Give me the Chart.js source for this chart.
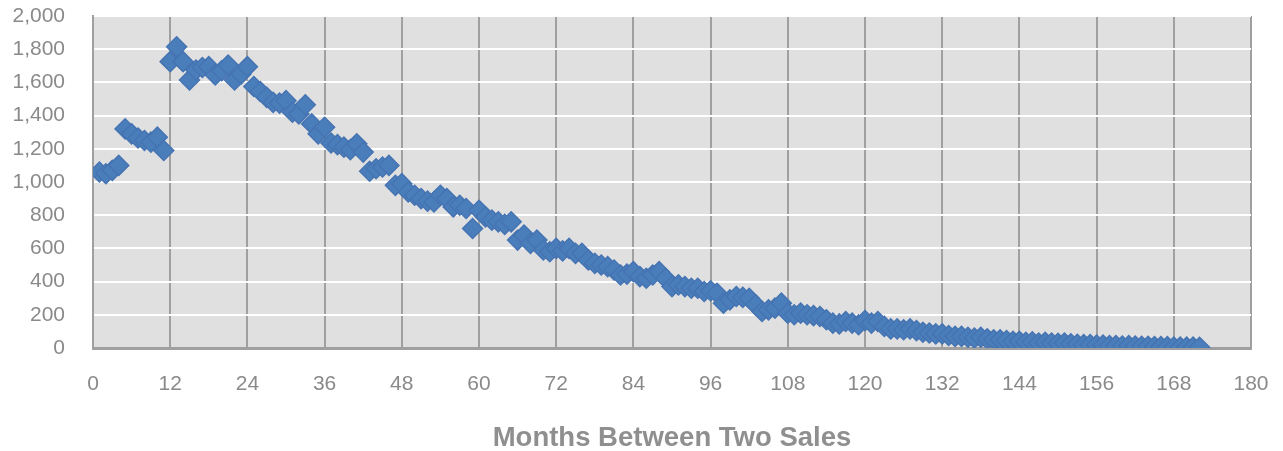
<!DOCTYPE html>
<html lang="en">
<head>
    <meta charset="UTF-8">
    <title>Months Between Two Sales</title>
    <script src="https://cdn.jsdelivr.net/npm/chart.js"></script>
    <style>
        body {
            margin: 0;
            padding: 0;
            background: #ffffff;
        }
        .wrap {
            width: 1283px;
            height: 451px;
        }
    </style>
</head>
<body>
    <div class="wrap">
        <canvas id="salesChart"></canvas>
    </div>
    <script>
        // months between two sales (1..172) and number of pairs
        const months = [];
        for (let m = 1; m <= 172; m++) months.push(m);

        const counts = [
            1060, 1050, 1070, 1100, 1320, 1290, 1265, 1250, 1240, 1270, 1190, 1725,
            1815, 1725, 1615, 1675, 1690, 1695, 1645, 1670, 1705, 1615, 1650, 1695,
            1575, 1545, 1510, 1480, 1475, 1490, 1420, 1410, 1465, 1350, 1290, 1330,
            1235, 1225, 1210, 1195, 1230, 1180, 1065, 1080, 1090, 1100, 980, 990,
            940, 920, 900, 885, 880, 920, 900, 850, 860, 840, 720, 830,
            790, 770, 760, 745, 760, 650, 680, 630, 650, 590, 580, 600,
            585, 600, 570, 570, 530, 510, 500, 490, 470, 440, 445, 460,
            430, 420, 440, 460, 420, 370, 380, 370, 360, 360, 340, 345,
            330, 270, 290, 310, 305, 300, 260, 220, 230, 240, 270, 210,
            200, 210, 200, 195, 190, 170, 150, 145, 160, 150, 140, 165,
            150, 160, 130, 115, 115, 110, 115, 105, 95, 90, 85, 85,
            75, 70, 70, 65, 60, 65, 55, 50, 50, 45, 40, 40,
            35, 38, 30, 35, 30, 28, 30, 25, 22, 20, 20, 18,
            18, 15, 15, 12, 14, 12, 10, 10, 9, 8, 8, 6,
            6, 5, 5, 4
        ];

        const xMin = 0, xMax = 180, xStep = 12;
        const yMin = 0, yMax = 2000, yStep = 200;

        const points = months.map((m, i) => ({ x: m, y: counts[i] }));

        const plotBg = {
            id: 'plotBg',
            beforeDraw(chart) {
                const { ctx, chartArea } = chart;
                ctx.save();
                ctx.fillStyle = '#e0e0e0';
                ctx.fillRect(chartArea.left, chartArea.top,
                    chartArea.right - chartArea.left, chartArea.bottom - chartArea.top);
                ctx.restore();
            }
        };

        const tickFont = { family: "'Liberation Sans', Arial, sans-serif", size: 21 };
        const tickColor = '#8a8a8a';

        new Chart(document.getElementById('salesChart'), {
            type: 'scatter',
            data: {
                datasets: [{
                    data: points,
                    pointStyle: 'rectRot',
                    pointRadius: 10,
                    pointBackgroundColor: '#4a7ebb',
                    pointBorderColor: '#4674b2',
                    pointBorderWidth: 1.5
                }]
            },
            options: {
                responsive: true,
                maintainAspectRatio: false,
                animation: false,
                layout: { padding: { left: 0, right: 32, top: 16, bottom: 0 } },
                plugins: {
                    legend: { display: false },
                    tooltip: { enabled: false }
                },
                scales: {
                    x: {
                        type: 'linear',
                        min: xMin,
                        max: xMax,
                        afterFit(scale) {
                            scale.height = 103;
                            scale.paddingLeft = 0;
                            scale.paddingRight = 0;
                        },
                        ticks: {
                            stepSize: xStep,
                            padding: 24,
                            color: tickColor,
                            font: tickFont,
                            maxRotation: 0
                        },
                        grid: {
                            drawTicks: false,
                            color: ctx => ctx.tick && ctx.tick.value === 0 ? 'rgba(0,0,0,0)' : '#a0a0a0',
                            lineWidth: 2
                        },
                        border: { color: '#a0a0a0', width: 3 },
                        title: {
                            display: true,
                            text: 'Months Between Two Sales',
                            color: '#8f8f8f',
                            font: { family: "'Liberation Sans', Arial, sans-serif", size: 27.5, weight: 'bold' },
                            padding: { top: 0, bottom: -4 }
                        }
                    },
                    y: {
                        min: yMin,
                        max: yMax,
                        afterFit(scale) {
                            scale.width = 93;
                            scale.paddingTop = 0;
                            scale.paddingBottom = 0;
                        },
                        ticks: {
                            stepSize: yStep,
                            padding: 28,
                            color: tickColor,
                            font: tickFont,
                            callback: v => v.toLocaleString('en-US')
                        },
                        grid: {
                            drawTicks: false,
                            color: ctx => ctx.tick && ctx.tick.value === 0 ? 'rgba(0,0,0,0)' : '#ffffff',
                            lineWidth: 2
                        },
                        border: { color: '#a0a0a0', width: 2 }
                    }
                }
            },
            plugins: [plotBg]
        });
    </script>
</body>
</html>
